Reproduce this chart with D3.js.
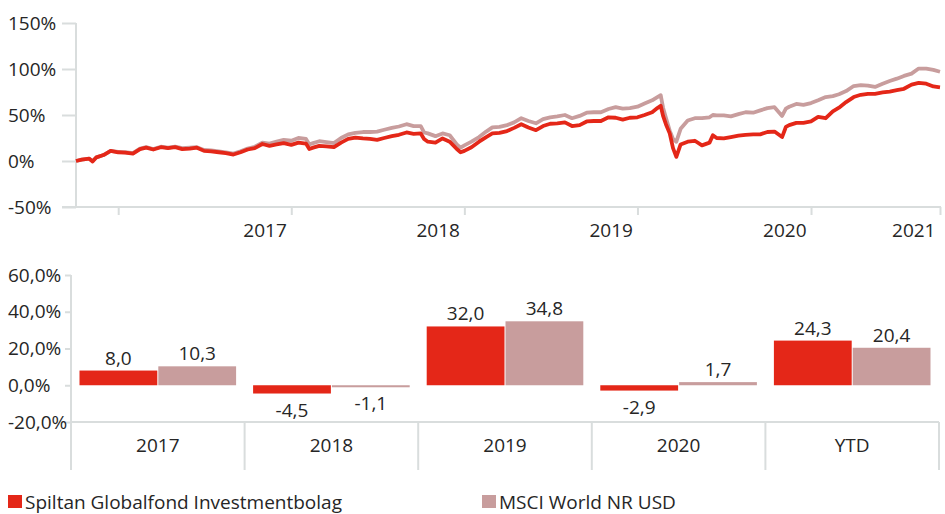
<!DOCTYPE html>
<html>
<head>
<meta charset="utf-8">
<script src="https://cdn.jsdelivr.net/npm/d3@7"></script>
<style>
  body { margin: 0; background: #fff; }
  text { font-family: "Open Sans", sans-serif; fill: #262626; }
</style>
</head>
<body>
<script>
// performance since start, %
var dates = [
  "2016-10-04","2016-10-16","2016-11-01","2016-11-08","2016-11-16","2016-12-01","2016-12-16",
  "2017-01-01","2017-01-16","2017-02-01","2017-02-16","2017-03-01","2017-03-16","2017-04-01","2017-04-16",
  "2017-05-01","2017-05-16","2017-06-01","2017-06-16","2017-07-01","2017-07-16","2017-08-01","2017-08-16",
  "2017-09-01","2017-09-16","2017-10-01","2017-10-16","2017-11-01","2017-11-16","2017-12-01","2017-12-16",
  "2018-01-01","2018-01-16","2018-02-01","2018-02-08","2018-02-16","2018-03-01","2018-03-16","2018-04-01",
  "2018-04-16","2018-05-01","2018-05-16","2018-06-01","2018-06-16","2018-07-01","2018-07-16","2018-08-01",
  "2018-08-16","2018-09-01","2018-09-16","2018-10-01","2018-10-08","2018-10-16","2018-11-01","2018-11-16",
  "2018-12-01","2018-12-16","2018-12-24",
  "2019-01-01","2019-01-16","2019-02-01","2019-02-16","2019-03-01","2019-03-16","2019-04-01","2019-04-16",
  "2019-05-01","2019-05-16","2019-06-01","2019-06-16","2019-07-01","2019-07-16","2019-08-01","2019-08-16",
  "2019-09-01","2019-09-16","2019-10-01","2019-10-16","2019-11-01","2019-11-16","2019-12-01","2019-12-16",
  "2020-01-01","2020-01-16","2020-02-01","2020-02-12","2020-02-19","2020-02-24","2020-03-01","2020-03-09",
  "2020-03-16","2020-03-23","2020-04-01","2020-04-16","2020-05-01","2020-05-16","2020-06-01","2020-06-08",
  "2020-06-16","2020-07-01","2020-07-16","2020-08-01","2020-08-16","2020-09-01","2020-09-16","2020-10-01",
  "2020-10-16","2020-11-01","2020-11-09","2020-11-16","2020-12-01","2020-12-16",
  "2021-01-01","2021-01-16","2021-02-01","2021-02-16","2021-03-01","2021-03-16","2021-04-01","2021-04-16",
  "2021-05-01","2021-05-16","2021-06-01","2021-06-16","2021-07-01","2021-07-16","2021-08-01","2021-08-16",
  "2021-09-01","2021-09-16","2021-09-30"
];

var fund = [
  0, 1.5, 2.5, -0.5, 4, 6.5, 11,
  9.5, 9, 8, 13, 14.5, 12.5, 15, 14, 15, 13, 13.5, 14.5, 11, 10.5, 9.5, 8.5, 7, 9.5, 12.5, 14, 18.5, 16.5, 18, 19.5,
  17.5, 20, 19, 13, 14.5, 16.5, 16, 15, 20, 24, 25.5, 24.5, 24, 23, 25, 27, 28.5, 31, 29.5, 30, 24, 21, 20, 24.5, 21, 13, 9.5,
  11, 15, 21, 26, 30, 30.5, 32.5, 36, 40, 36.5, 33.5, 38, 40.5, 41, 42, 38, 39, 43, 43.5, 43.5, 47.5, 47, 45, 47,
  47.5, 50, 53, 57.5, 60, 49, 40, 30, 14, 4.5, 18, 21, 22, 17, 20, 28, 25, 24.5, 26, 27.5, 28.5, 29, 29, 31.5, 32, 26, 37, 39, 41.5, 41.5,
  43, 48, 46.5, 54, 58, 64, 69.5, 72, 73, 73, 74.5, 75.5, 77, 78.5, 83, 85, 84, 81, 80
];

var index = [
  0, 1.5, 2.5, 0, 4, 6.5, 11,
  10, 9.5, 8.5, 13.5, 15, 13, 15.5, 14.5, 15.5, 14, 14.5, 15, 12, 11.5, 10.5, 9.5, 8, 10.5, 13.5, 15.5, 20, 19, 21, 23,
  22, 25, 24, 18, 19.5, 21.5, 20.5, 19.5, 25, 29, 30.5, 31.5, 31.5, 32, 34, 36, 37.5, 40, 38, 38, 31, 30, 27, 30, 28, 18, 14.5,
  17, 21, 26, 32, 36.5, 37, 39, 42, 46.5, 43.5, 41, 45.5, 47.5, 48.5, 50, 46.5, 49, 52.5, 53, 53, 56.5, 58.5, 57, 57.5,
  59, 62.5, 66, 69.5, 71.5, 58, 47, 33, 24, 21, 35, 44, 46.5, 46.5, 47.5, 50, 49.5, 49.5, 48.5, 51, 53, 52.5, 55, 57.5, 58.5, 49, 57, 59, 62, 61,
  63, 66, 69.5, 70.5, 72.5, 76, 81.5, 82.5, 82, 80.5, 84, 87, 89.5, 92.5, 95, 100.5, 100.5, 99, 97
];

var lineTicks = [-50, 0, 50, 100, 150];
var yearTicks = ["2017-01-01", "2018-01-01", "2019-01-01", "2020-01-01", "2021-01-01", "2021-09-30"];

// yearly returns, %
var years = ["2017", "2018", "2019", "2020", "YTD"];
var fundReturns = [8.0, -4.5, 32.0, -2.9, 24.3];
var indexReturns = [10.3, -1.1, 34.8, 1.7, 20.4];
var barTicks = [-20, 0, 20, 40, 60];

var seriesNames = ["Spiltan Globalfond Investmentbolag", "MSCI World NR USD"];
var colors = ["#e42718", "#c89d9d"];
var axisColor = "#d9dddd";

var parse = d3.timeParse("%Y-%m-%d");
var locale = d3.formatLocale({decimal: ",", thousands: " ", grouping: [3], currency: ["", ""], minus: "-"});
var f1 = locale.format(".1f");

var svg = d3.select("body").append("svg")
    .attr("width", 945)
    .attr("height", 514);

// ---- line chart ----
var x = d3.scaleTime()
    .domain([parse(dates[0]), parse(dates[dates.length - 1])])
    .range([76, 940]);
var y = d3.scaleLinear().domain([-50, 150]).range([207, 23]);

var lineG = svg.append("g");

lineG.append("line")
    .attr("x1", 76).attr("x2", 76).attr("y1", y(150)).attr("y2", y(-50))
    .attr("stroke", axisColor).attr("stroke-width", 2);
lineG.append("line")
    .attr("x1", 62).attr("x2", 941).attr("y1", y(-50)).attr("y2", y(-50))
    .attr("stroke", axisColor).attr("stroke-width", 2);

var yAx = lineG.append("g")
    .attr("transform", "translate(76,0)")
    .call(d3.axisLeft(y).tickValues(lineTicks).tickSize(14).tickFormat(function(d) { return d + "%"; }));
yAx.select(".domain").remove();
yAx.selectAll(".tick line").attr("stroke", axisColor).attr("stroke-width", 2);
yAx.selectAll(".tick text")
    .attr("x", -68).attr("text-anchor", "start")
    .style("font-size", "19px").style("font-family", "Open Sans");

var xAx = lineG.append("g")
    .attr("transform", "translate(0," + y(-50) + ")")
    .call(d3.axisBottom(x).tickValues(yearTicks.map(parse)).tickSize(8)
      .tickFormat(function(d, i) { return i === 0 ? "" : d3.timeFormat("%Y")(d3.timeDay.offset(d, -1)); }));
xAx.select(".domain").remove();
xAx.selectAll(".tick line").attr("stroke", axisColor).attr("stroke-width", 2);
xAx.selectAll(".tick text")
    .attr("text-anchor", "end").attr("dx", -5).attr("y", 17)
    .style("font-size", "19px").style("font-family", "Open Sans");

var line = d3.line()
    .x(function(d) { return x(d.date); })
    .y(function(d) { return y(d.value); });

[index, fund].forEach(function(vals, k) {
  var pts = vals.map(function(v, i) { return {date: parse(dates[i]), value: v}; });
  lineG.append("path")
      .datum(pts)
      .attr("fill", "none")
      .attr("stroke", k === 0 ? colors[1] : colors[0])
      .attr("stroke-width", 3.8)
      .attr("stroke-linejoin", "round")
      .attr("d", line);
});

// ---- bar chart ----
var x0 = d3.scaleBand().domain(years).range([71, 939]);
var x1 = d3.scaleBand().domain([0, 1]).range([8.5, x0.bandwidth() - 8.5]).paddingInner(0.0127);
var yb = d3.scaleLinear().domain([-20, 60]).range([422, 275]);

var barG = svg.append("g");

barG.append("line")
    .attr("x1", 71).attr("x2", 71).attr("y1", yb(60)).attr("y2", 470)
    .attr("stroke", axisColor).attr("stroke-width", 2);
barG.append("line")
    .attr("x1", 71).attr("x2", 939).attr("y1", yb(-20)).attr("y2", yb(-20))
    .attr("stroke", axisColor).attr("stroke-width", 2);
barG.selectAll(".sep")
    .data(years)
    .enter().append("line")
    .attr("x1", function(d) { return x0(d) + x0.bandwidth(); })
    .attr("x2", function(d) { return x0(d) + x0.bandwidth(); })
    .attr("y1", yb(-20)).attr("y2", 470)
    .attr("stroke", axisColor).attr("stroke-width", 2);

var ybAx = barG.append("g")
    .attr("transform", "translate(71,0)")
    .call(d3.axisLeft(yb).tickValues(barTicks).tickSize(6).tickFormat(function(d) { return f1(d) + "%"; }));
ybAx.select(".domain").remove();
ybAx.selectAll(".tick line").attr("stroke", axisColor).attr("stroke-width", 2);
ybAx.selectAll(".tick text")
    .attr("x", -63).attr("text-anchor", "start")
    .style("font-size", "19px").style("font-family", "Open Sans");

barG.selectAll(".cat")
    .data(years)
    .enter().append("text")
    .attr("x", function(d) { return x0(d) + x0.bandwidth() / 2; })
    .attr("y", 452)
    .attr("text-anchor", "middle")
    .style("font-size", "19px")
    .text(function(d) { return d; });

var bars = [];
years.forEach(function(c, i) {
  bars.push({cat: c, s: 0, value: fundReturns[i]});
  bars.push({cat: c, s: 1, value: indexReturns[i]});
});

barG.selectAll(".bar")
    .data(bars)
    .enter().append("rect")
    .attr("x", function(d) { return x0(d.cat) + x1(d.s); })
    .attr("width", x1.bandwidth())
    .attr("y", function(d) { return yb(Math.max(0, d.value)); })
    .attr("height", function(d) { return Math.abs(yb(d.value) - yb(0)); })
    .attr("fill", function(d) { return colors[d.s]; });

barG.selectAll(".val")
    .data(bars)
    .enter().append("text")
    .attr("x", function(d) { return x0(d.cat) + x1(d.s) + x1.bandwidth() / 2; })
    .attr("y", function(d) { return d.value >= 0 ? yb(d.value) - 6 : yb(d.value) + 23; })
    .attr("text-anchor", "middle")
    .style("font-size", "19px")
    .text(function(d) { return f1(d.value); });

// ---- legend ----
var legX = [8, 482];
var leg = svg.selectAll(".leg")
    .data(seriesNames)
    .enter().append("g")
    .attr("transform", function(d, i) { return "translate(" + legX[i] + ",495)"; });
leg.append("rect").attr("width", 14).attr("height", 13).attr("fill", function(d, i) { return colors[i]; });
leg.append("text").attr("x", 17).attr("y", 13.5).style("font-size", "19px").text(function(d) { return d; });
</script>
</body>
</html>
